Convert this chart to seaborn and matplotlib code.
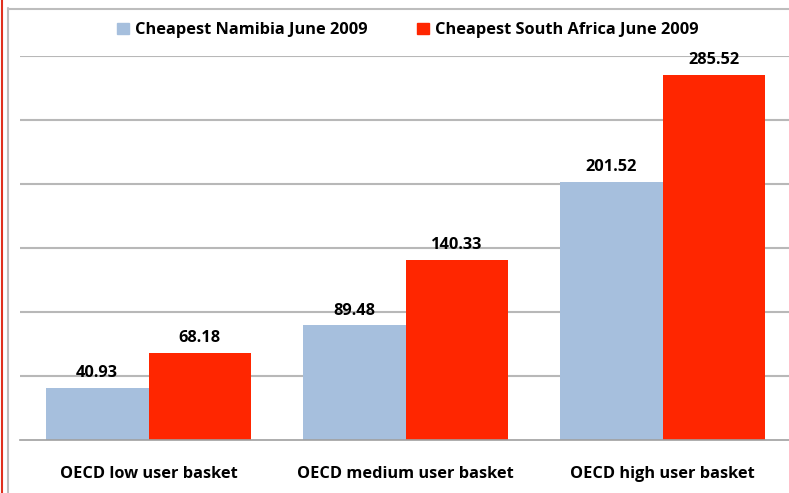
import pandas as pd
import numpy as np
import matplotlib
matplotlib.use("Agg")
import matplotlib.pyplot as plt
import seaborn as sns
from matplotlib.lines import Line2D
from matplotlib.patches import Rectangle

# Dados do gráfico
cestas = ["OECD low user basket", "OECD medium user basket", "OECD high user basket"]
series = ["Cheapest Namibia June 2009", "Cheapest South Africa June 2009"]
namibia = [40.93, 89.48, 201.52]
africa_sul = [68.18, 140.33, 285.52]
cores = ["#A6BFDD", "#FF2600"]

df = pd.DataFrame({
    "cesta": cestas * 2,
    "serie": [series[0]] * 3 + [series[1]] * 3,
    "valor": namibia + africa_sul,
})

sns.set_style("white")
plt.rcParams["font.family"] = ["Open Sans", "DejaVu Sans"]
plt.rcParams["text.color"] = "black"
plt.rcParams["xtick.color"] = "black"

fig = plt.figure(figsize=(7.89, 4.93), dpi=100)
W, H = 789, 493
ax = fig.add_axes([20 / W, 53 / H, 771 / W, 384 / H])

sns.barplot(data=df, x="cesta", y="valor", hue="serie", palette=cores,
            order=cestas, hue_order=series, width=0.8, ax=ax,
            saturation=1, edgecolor="none", legend=False)

ax.set_ylim(0, 300)
ax.set_xlim(-0.5, 2.5)
ax.set_yticks(np.arange(50, 301, 50))
ax.set_yticklabels([])
ax.tick_params(axis="y", length=0)
ax.yaxis.grid(True, color="#B8B8B8", linewidth=1.5)
ax.set_axisbelow(True)
for s in ["top", "right", "left"]:
    ax.spines[s].set_visible(False)
ax.spines["bottom"].set_color("#A0A0A0")
ax.spines["bottom"].set_linewidth(1.2)

ax.set_xticks(range(3))
ax.set_xticklabels(cestas, fontsize=11.8, fontweight="bold", color="black")
ax.tick_params(axis="x", length=0, pad=19)
ax.set_xticks([-0.5, 0.5, 1.5, 2.5], minor=True)
ax.tick_params(axis="x", which="minor", length=5, width=1.2, color="#A0A0A0")
ax.set_xlabel("")
ax.set_ylabel("")

# Rótulos de valor
for cont in ax.containers:
    ax.bar_label(cont, labels=[f"{v:.2f}" for v in cont.datavalues],
                 padding=5, fontsize=11.8, fontweight="bold", color="black")

# Legenda
handles = [Rectangle((0, 0), 1, 1, color=c) for c in cores]
leg = fig.legend(handles, series, loc="center", bbox_to_anchor=(408 / W, 1 - 30 / H),
                 ncol=2, frameon=False, prop={"weight": "bold", "size": 11.8},
                 handlelength=0.7, handleheight=0.7, handletextpad=0.4, columnspacing=3.0)
for t in leg.get_texts():
    t.set_color("black")

# Moldura
fig.add_artist(Line2D([7.5 / W, 7.5 / W], [0, 1 - 8 / H], color="#BDBDBD", lw=1.5))
fig.add_artist(Line2D([7.5 / W, 1], [1 - 8.5 / H, 1 - 8.5 / H], color="#BDBDBD", lw=1.5))
fig.add_artist(Line2D([1.5 / W, 1.5 / W], [0, 1], color="#E0301E", lw=1.5))

fig.savefig("out.png", dpi=100)
